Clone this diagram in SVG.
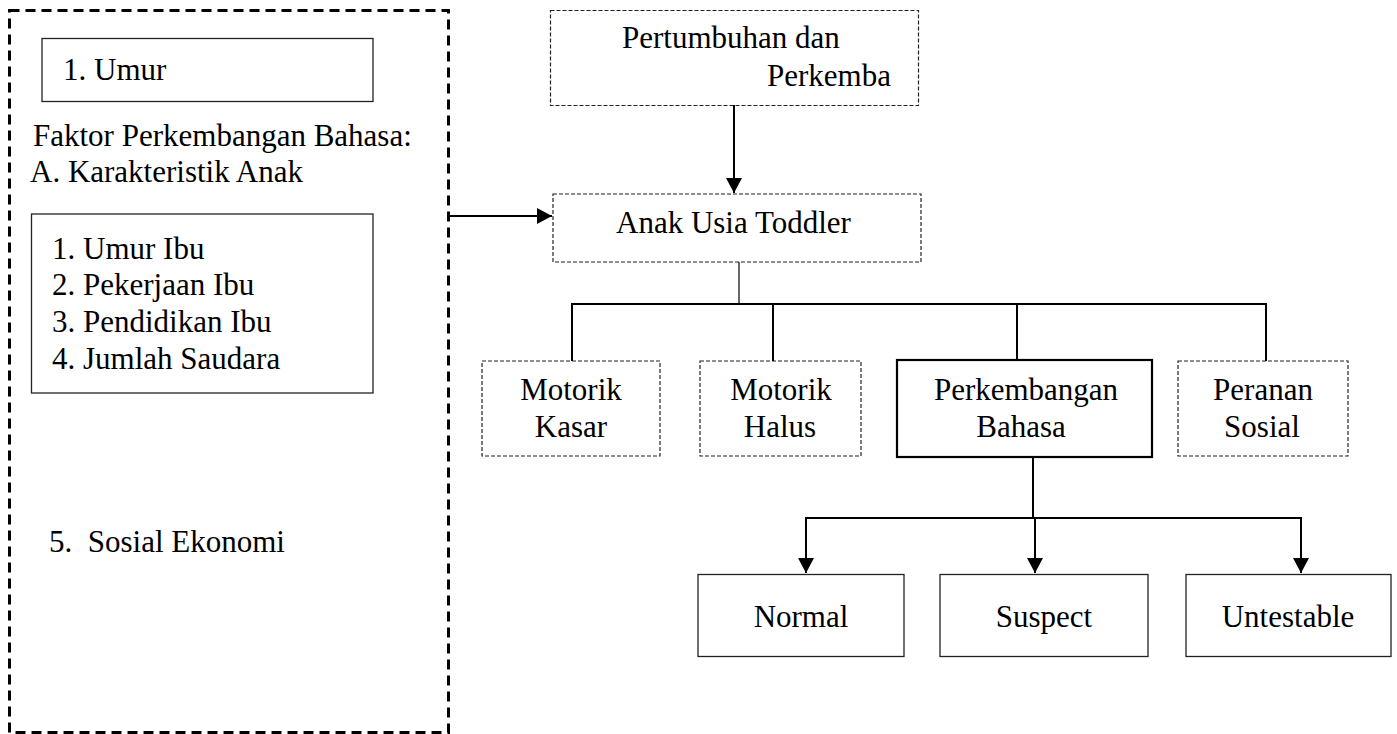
<svg xmlns="http://www.w3.org/2000/svg" width="1397" height="734" viewBox="0 0 1397 734">
<style>
text{font-family:"Liberation Serif","Times New Roman",serif;font-size:31px;fill:#000}
.c{text-anchor:middle}
.outer{fill:none;stroke:#000;stroke-width:3;stroke-dasharray:10 6}
.dash{fill:#fff;stroke:#222;stroke-width:1.2;stroke-dasharray:4 2}
.solid{fill:#fff;stroke:#222;stroke-width:1.3}
.bold{fill:#fff;stroke:#000;stroke-width:2.2}
.ln{fill:none;stroke:#000;stroke-width:2}
.thin{fill:none;stroke:#000;stroke-width:1.2}
</style>
<defs>
<marker id="ah" markerUnits="userSpaceOnUse" markerWidth="16" markerHeight="18" refX="15" refY="8" orient="auto">
<path d="M0,0 L15,8 L0,16 z" fill="#000"/>
</marker>
</defs>
<rect width="1397" height="734" fill="#fff"/>

<g id="faktor">
<rect class="outer" x="9.5" y="10.5" width="439" height="722"/>
</g>
<g id="umur">
<rect class="solid" x="42" y="38.5" width="331" height="63"/>
<text x="63" y="80">1. Umur</text>
</g>
<g id="faktor-title">
<text x="33" y="146">Faktor Perkembangan Bahasa:</text>
<text x="30" y="182">A. Karakteristik Anak</text>
</g>
<g id="ibu">
<rect class="solid" x="31.5" y="214" width="341.5" height="179"/>
<text x="52" y="259">1. Umur Ibu</text>
<text x="52" y="295">2. Pekerjaan Ibu</text>
<text x="52" y="332">3. Pendidikan Ibu</text>
<text x="52" y="369">4. Jumlah Saudara</text>
</g>
<g id="sosial-ekonomi">
<text x="49" y="552" xml:space="preserve">5.  Sosial Ekonomi</text>
</g>

<g id="pertumbuhan">
<rect class="dash" x="550.5" y="10.5" width="368" height="95"/>
<text x="622" y="48">Pertumbuhan dan</text>
<text x="767" y="86">Perkemba</text>
</g>
<g id="toddler">
<rect class="dash" x="553" y="194" width="368" height="68"/>
<text x="616" y="233">Anak Usia Toddler</text>
</g>

<g id="motorik-kasar">
<rect class="dash" x="482" y="361" width="178" height="95"/>
<text class="c" x="571" y="400">Motorik</text>
<text class="c" x="571" y="437">Kasar</text>
</g>
<g id="motorik-halus">
<rect class="dash" x="700" y="361" width="161" height="95"/>
<text class="c" x="781" y="400">Motorik</text>
<text class="c" x="780" y="437">Halus</text>
</g>
<g id="perkembangan-bahasa">
<rect class="bold" x="897" y="360" width="255" height="97"/>
<text class="c" x="1026" y="400">Perkembangan</text>
<text class="c" x="1021" y="437">Bahasa</text>
</g>
<g id="peranan-sosial">
<rect class="dash" x="1178" y="361" width="170" height="95"/>
<text class="c" x="1263" y="400">Peranan</text>
<text class="c" x="1262" y="437">Sosial</text>
</g>

<g id="normal">
<rect class="solid" x="698" y="574.5" width="206" height="82"/>
<text class="c" x="801" y="627">Normal</text>
</g>
<g id="suspect">
<rect class="solid" x="940" y="574.5" width="208" height="82"/>
<text class="c" x="1044" y="627">Suspect</text>
</g>
<g id="untestable">
<rect class="solid" x="1186" y="574.5" width="205" height="82"/>
<text class="c" x="1288" y="627">Untestable</text>
</g>

<g id="connectors">
<line class="ln" x1="734" y1="105" x2="734" y2="193" marker-end="url(#ah)"/>
<line class="ln" x1="449" y1="216" x2="552" y2="216" marker-end="url(#ah)"/>
<line class="thin" x1="739" y1="262" x2="739" y2="304"/>
<line class="ln" x1="571" y1="304" x2="1267" y2="304"/>
<line class="ln" x1="572" y1="304" x2="572" y2="361"/>
<line class="ln" x1="773" y1="304" x2="773" y2="361"/>
<line class="ln" x1="1017" y1="304" x2="1017" y2="360"/>
<line class="ln" x1="1266" y1="304" x2="1266" y2="361"/>
<line class="ln" x1="1033" y1="457" x2="1033" y2="518"/>
<line class="ln" x1="805" y1="518" x2="1302" y2="518"/>
<line class="ln" x1="806" y1="518" x2="806" y2="573" marker-end="url(#ah)"/>
<line class="ln" x1="1035" y1="518" x2="1035" y2="573" marker-end="url(#ah)"/>
<line class="ln" x1="1301" y1="518" x2="1301" y2="573" marker-end="url(#ah)"/>
</g>
</svg>
